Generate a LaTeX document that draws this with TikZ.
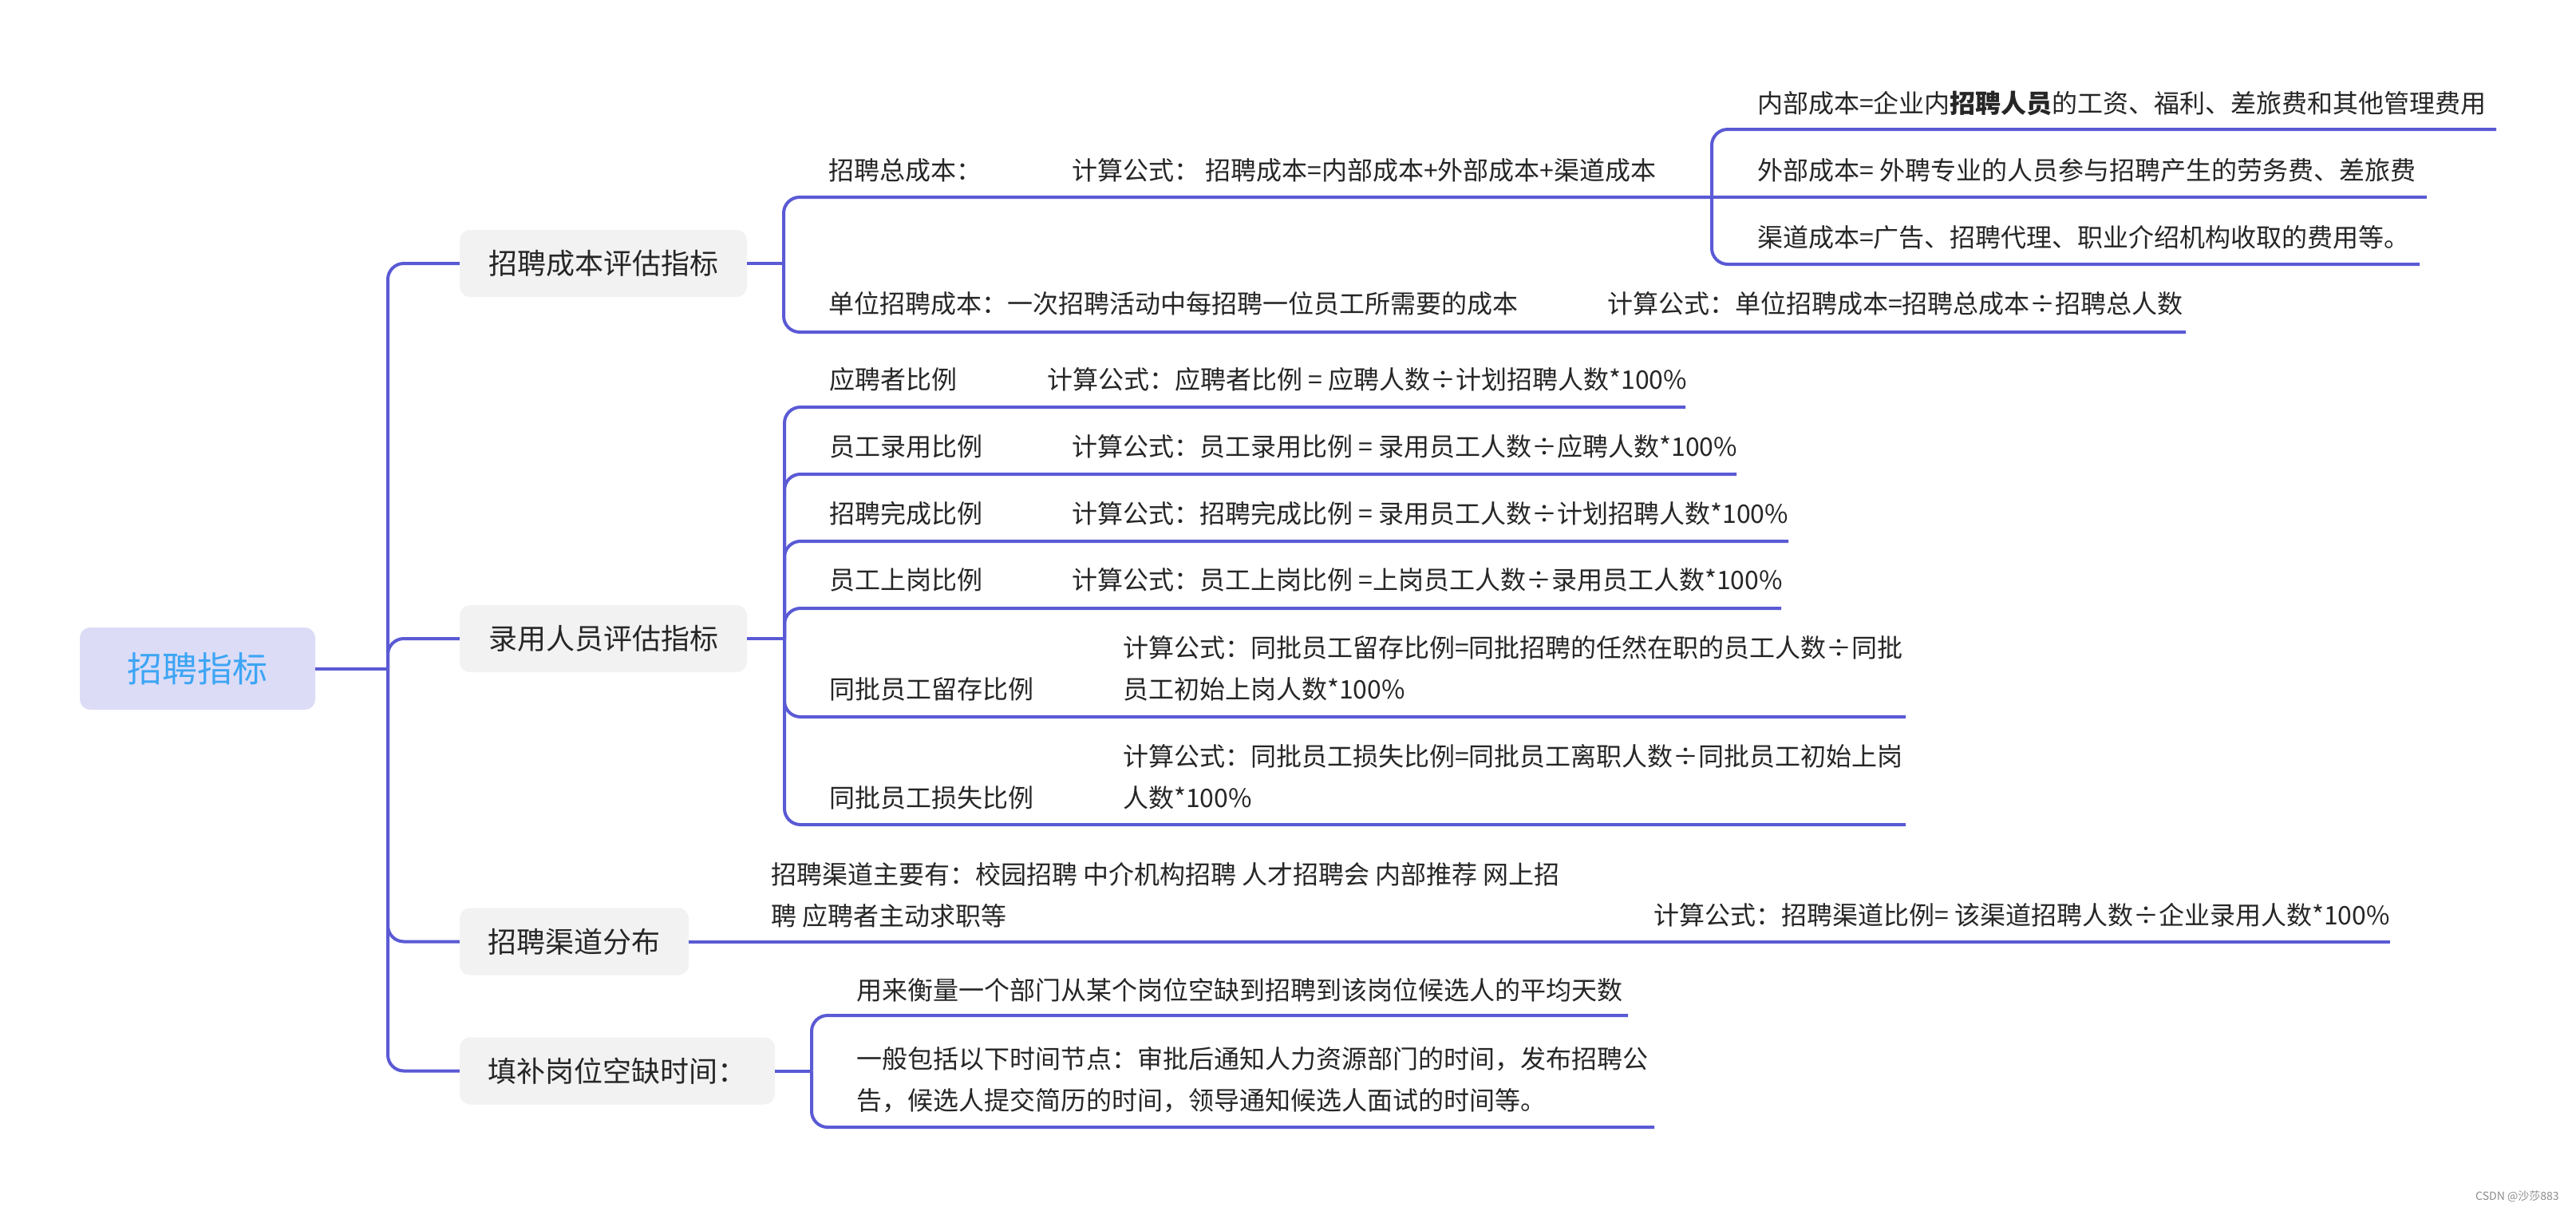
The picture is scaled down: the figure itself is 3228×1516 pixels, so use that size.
\documentclass[tikz,border=0pt]{standalone}
\usepackage{fontspec}
\setmainfont{Noto Sans CJK SC}
\definecolor{linec}{HTML}{5A5AD5}
\definecolor{rootfill}{HTML}{DCDCF7}
\definecolor{roottext}{HTML}{3DA5F4}
\definecolor{topfill}{HTML}{F2F2F2}
\definecolor{txt}{HTML}{262626}
\begin{document}
\begin{tikzpicture}[x=1pt,y=-1pt,
  conn/.style={draw=linec,line width=4pt,rounded corners=20pt},
  rootbox/.style={fill=rootfill,rounded corners=13pt,minimum width=295pt,minimum height=103pt,inner sep=0pt,text=roottext,font=\fontsize{44}{52}\selectfont},
  topbox/.style={fill=topfill,rounded corners=13pt,minimum height=84pt,inner sep=0pt,text=txt,font=\fontsize{36}{44}\selectfont},
  leaf/.style={anchor=west,inner sep=0pt,text=txt,font=\fontsize{32}{51}\selectfont,text height=28pt,text depth=4pt},
  leafml/.style={anchor=west,inner sep=0pt,text=txt,font=\fontsize{32}{52}\selectfont,align=left},
  wm/.style={anchor=west,inner sep=0pt,text=black!45,font=\fontsize{14}{16}\selectfont}
]
\fill[white] (0,0) rectangle (3228,1516);
\useasboundingbox (0,0) rectangle (3228,1516);

% root and level 1
\node[rootbox] (root) at (247.5,837.5) {招聘指标};
\node[topbox,minimum width=360pt] (n1) at (756,330) {招聘成本评估指标};
\node[topbox,minimum width=360pt] (n2) at (756,800) {录用人员评估指标};
\node[topbox,minimum width=287pt] (n3) at (719.5,1179.5) {招聘渠道分布};
\node[topbox,minimum width=395pt] (n4) at (773.5,1341.5) {填补岗位空缺时间：};

\coordinate (J0) at (486,837.5);
\draw[conn] (root.east) -- (J0);
\draw[conn] (J0) |- (n1.west);
\draw[conn] (J0) |- (n2.west);
\draw[conn] (J0) |- (n3.west);
\draw[conn] (J0) |- (n4.west);

% cost branch
\coordinate (J1) at (982,330);
\coordinate (K1) at (2145,247);
\coordinate (E1) at (3128,162);
\coordinate (E2) at (3041,247);
\coordinate (E3) at (3032,331);
\coordinate (U13) at (2739,416);
\draw[conn] (n1.east) -- (J1);
\draw[conn] (J1) |- (K1);
\draw[conn] (J1) |- (U13);
\draw[conn] (K1) |- (E1);
\draw[conn] (K1) -- (E2);
\draw[conn] (K1) |- (E3);
\node[leaf] (t11) at (1038,213) {招聘总成本：};
\node[leaf] (t12) at (1343,213) {计算公式： 招聘成本=内部成本+外部成本+渠道成本};
\node[leaf] (t111) at (2202,129) {内部成本=企业内\textbf{招聘人员}的工资、福利、差旅费和其他管理费用};
\node[leaf] (t112) at (2202,213) {外部成本= 外聘专业的人员参与招聘产生的劳务费、差旅费};
\node[leaf] (t113) at (2202,297) {渠道成本=广告、招聘代理、职业介绍机构收取的费用等。};
\node[leaf] (t13) at (1038,380) {单位招聘成本：一次招聘活动中每招聘一位员工所需要的成本};
\node[leaf] (t14) at (2014,380) {计算公式：单位招聘成本=招聘总成本÷招聘总人数};

% recruitment branch
\coordinate (J2) at (983,800);
\coordinate (R1) at (2112,510);
\coordinate (R2) at (2176,594);
\coordinate (R3) at (2241,678);
\coordinate (R4) at (2232,762);
\coordinate (R5) at (2388,898);
\coordinate (R6) at (2388,1033);
\draw[conn] (n2.east) -- (J2);
\foreach \r in {R1,R2,R3,R4,R5,R6}{\draw[conn] (J2) |- (\r);}
\node[leaf] (a1) at (1039,475) {应聘者比例};
\node[leaf] (a2) at (1039,559) {员工录用比例};
\node[leaf] (a3) at (1039,643) {招聘完成比例};
\node[leaf] (a4) at (1039,726) {员工上岗比例};
\node[leaf] (a5) at (1039,863) {同批员工留存比例};
\node[leaf] (a6) at (1039,999) {同批员工损失比例};
\node[leaf] (b1) at (1312,475) {计算公式：应聘者比例 = 应聘人数÷计划招聘人数*100\%};
\node[leaf] (b2) at (1343,559) {计算公式：员工录用比例 = 录用员工人数÷应聘人数*100\%};
\node[leaf] (b3) at (1343,643) {计算公式：招聘完成比例 = 录用员工人数÷计划招聘人数*100\%};
\node[leaf] (b4) at (1343,726) {计算公式：员工上岗比例 =上岗员工人数÷录用员工人数*100\%};
\node[leafml] (b5) at (1407,837) {计算公式：同批员工留存比例=同批招聘的任然在职的员工人数÷同批\\员工初始上岗人数*100\%};
\node[leafml] (b6) at (1407,973.5) {计算公式：同批员工损失比例=同批员工离职人数÷同批员工初始上岗\\人数*100\%};

% channel branch
\coordinate (C1) at (2995,1179.5);
\draw[conn] (n3.east) -- (C1);
\node[leafml] (c1) at (966,1121) {招聘渠道主要有：校园招聘 中介机构招聘 人才招聘会 内部推荐 网上招\\聘 应聘者主动求职等};
\node[leaf] (c2) at (2072,1146) {计算公式：招聘渠道比例= 该渠道招聘人数÷企业录用人数*100\%};

% vacancy branch
\coordinate (J4) at (1017,1341.5);
\coordinate (F1) at (2040,1272);
\coordinate (F2) at (2073,1412);
\draw[conn] (n4.east) -- (J4);
\draw[conn] (J4) |- (F1);
\draw[conn] (J4) |- (F2);
\node[leaf] (p1) at (1073,1240) {用来衡量一个部门从某个岗位空缺到招聘到该岗位候选人的平均天数};
\node[leafml] (p2) at (1073,1353) {一般包括以下时间节点：审批后通知人力资源部门的时间，发布招聘公\\告，候选人提交简历的时间，领导通知候选人面试的时间等。};

\node[wm] (wmk) at (3102,1499) {CSDN @沙莎883};
\end{tikzpicture}
\end{document}
